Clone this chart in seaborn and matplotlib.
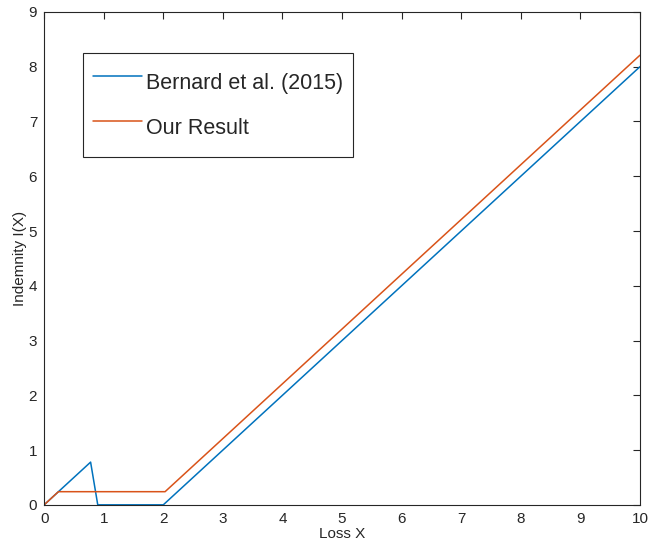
import matplotlib
matplotlib.use("Agg")
import matplotlib.pyplot as plt
import seaborn as sns
import pandas as pd

bernard_x = [0, 0.78, 0.90, 2.0, 10]
bernard_y = [0, 0.78, 0.0, 0.0, 8.0]
ours_x = [0, 0.24, 2.03, 10]
ours_y = [0, 0.24, 0.24, 8.21]
labels = ["Bernard et al. (2015)", "Our Result"]

df = pd.concat([
    pd.DataFrame({"x": bernard_x, "y": bernard_y, "series": labels[0]}),
    pd.DataFrame({"x": ours_x, "y": ours_y, "series": labels[1]}),
])

sns.set_style("white")
plt.rcParams["font.family"] = ["Liberation Sans", "DejaVu Sans"]

fig = plt.figure(figsize=(6.49, 5.44), dpi=100)
ax = fig.add_axes([0.068, 0.072, 0.918, 0.906])
sns.lineplot(data=df, x="x", y="y", hue="series", sort=False,
             palette=["#0072BD", "#D95319"], linewidth=1.1, ax=ax)

ax.set_xlim(0, 10)
ax.set_ylim(0, 9)
ax.set_xticks(range(0, 11))
ax.set_yticks(range(0, 10))
ax.set_xlabel("Loss X", fontsize=11, labelpad=1)
ax.set_ylabel("Indemnity I(X)", fontsize=11, labelpad=1)
ax.tick_params(direction="in", top=True, right=True, length=5, width=0.8,
               labelsize=11, colors="#262626", pad=5)
for s in ax.spines.values():
    s.set_color("#262626")
    s.set_linewidth(0.8)

leg = ax.legend(loc="upper left", bbox_to_anchor=(0.0654, 0.9175), fontsize=15.5,
                frameon=True, fancybox=False, framealpha=1, edgecolor="#262626",
                handlelength=2.27, handleheight=2.5, handletextpad=0.2,
                borderpad=0.45, labelspacing=0.22, borderaxespad=0)
leg.get_frame().set_linewidth(0.8)

fig.savefig("out.png", dpi=100)
